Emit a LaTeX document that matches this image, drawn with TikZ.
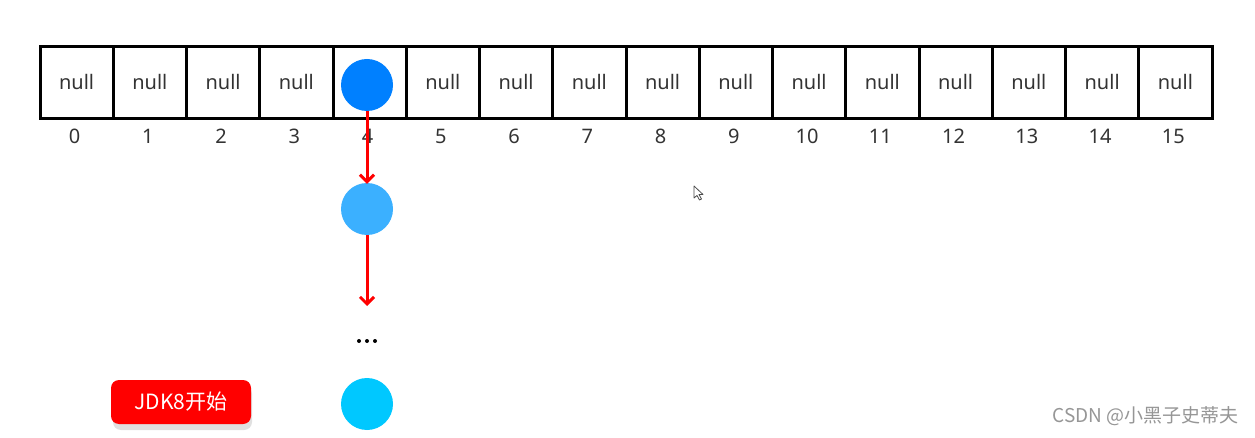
\documentclass[tikz,border=0pt]{standalone}
\usepackage{fontspec}
\setmainfont{Noto Sans}
\newfontfamily\cjk{Noto Sans CJK SC}
\usetikzlibrary{arrows.meta}
\definecolor{nodeA}{RGB}{0,128,255}
\definecolor{nodeB}{RGB}{59,176,255}
\definecolor{nodeC}{RGB}{0,200,255}
\definecolor{wm}{RGB}{150,150,150}
\tikzset{
  cell/.style={draw=black, line width=3pt, minimum width=73.25pt, minimum height=72pt, inner sep=0pt, font=\fontsize{20}{22}\selectfont, text=black!80},
  idx/.style={font=\fontsize{20}{22}\selectfont, text=black!80, inner sep=0pt},
  ball/.style={circle, minimum size=52pt, inner sep=0pt},
  link/.style={red, line width=3pt, -{Straight Barb[length=7pt,width=14pt,line width=3pt]}},
  dot/.style={circle, fill=black, minimum size=4pt, inner sep=0pt},
}
\begin{document}
\begin{tikzpicture}[x=1pt,y=-1pt]
\useasboundingbox (0,0) rectangle (1255,438);
\fill[white] (0,0) rectangle (1255,438);
\foreach \i in {0,...,15}{
  \pgfmathsetmacro{\cx}{40+73.25*\i+36.625}
  \ifnum\i=4
    \node[cell] (c\i) at (\cx,82.5) {};
  \else
    \node[cell] (c\i) at (\cx,82.5) {null};
  \fi
  \node[idx] (l\i) at (\cx-2,136) {\i};
}
\node[ball, fill=nodeA] (n1) at (367,85) {};
\node[ball, fill=nodeB] (n2) at (367,209) {};
\node[ball, fill=nodeC] (n3) at (367,404) {};
\coordinate (e2) at (367,306);
\node[dot] (d1) at (359,341) {};
\node[dot] (d2) at (367,341) {};
\node[dot] (d3) at (375,341) {};
\draw[link] (n1.south) -- ([yshift=-1pt]n2.north);
\draw[link] (n2.south) -- (e2);
% label box with shadow
\fill[black!12, rounded corners=8pt] (113,386) rectangle (252,430);
\node[fill=red, rounded corners=8pt, minimum width=140pt, minimum height=44pt, inner sep=0pt, text=white, font=\cjk\fontsize{21}{23}\selectfont] (jdk) at (181,402) {JDK8开始};
% cursor
\draw[black!70, line width=0.8pt, fill=white, line join=round] (694,186) -- (694,198) -- (697,195.5) -- (699.5,200) -- (701.5,199) -- (699,194.5) -- (703,194.5) -- cycle;
% watermark
\node[anchor=east, inner sep=0pt, text=wm, font=\cjk\fontsize{19}{21}\selectfont] (wmk) at (1239,416) {CSDN @小黑子史蒂夫};
\end{tikzpicture}
\end{document}
